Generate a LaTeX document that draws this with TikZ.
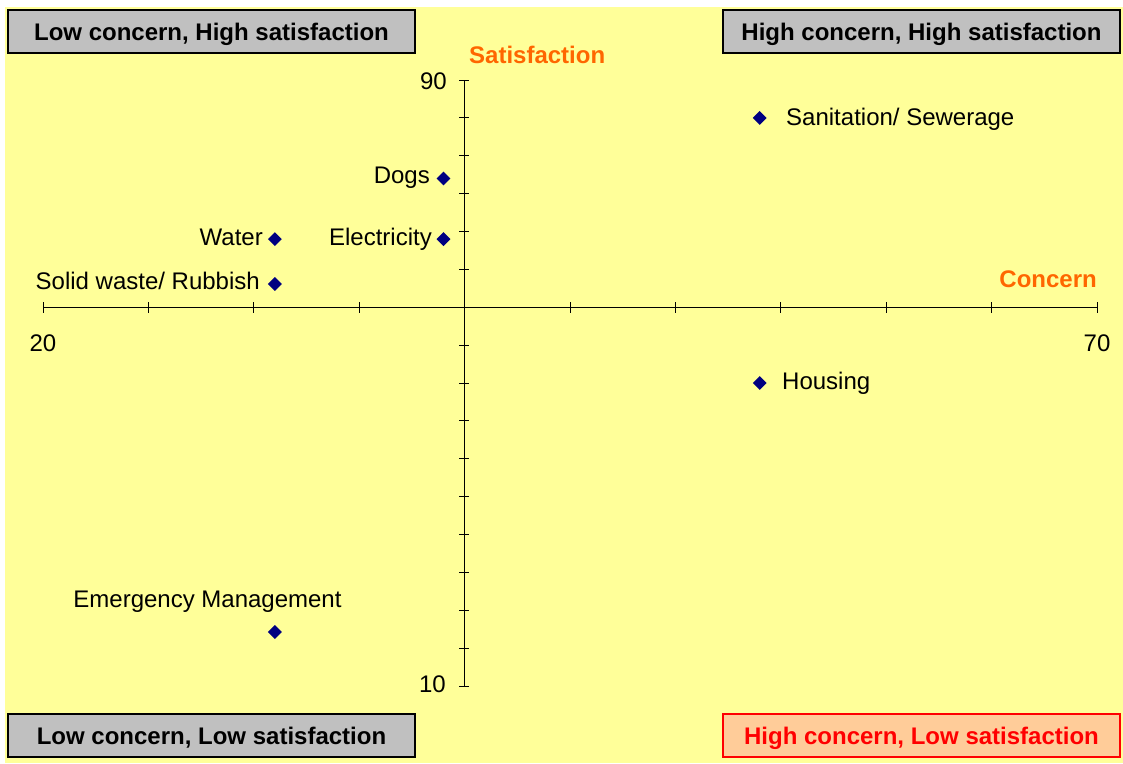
\documentclass[tikz,border=0pt]{standalone}
\usepackage{fontspec}
\setmainfont{Liberation Sans}
\usetikzlibrary{shapes.geometric}
\definecolor{bgyellow}{HTML}{FFFF99}
\definecolor{boxgray}{HTML}{C0C0C0}
\definecolor{peach}{HTML}{FFCC99}
\definecolor{axisorange}{HTML}{FF6600}
\definecolor{navy}{HTML}{000080}
\tikzset{
  quadbox/.style={draw=black, line width=1.5pt, fill=boxgray,
    font=\bfseries\fontsize{24}{28}\selectfont,
    minimum height=43pt, text height=17pt, text depth=0pt, inner sep=0pt},
  alertbox/.style={quadbox, draw=red, fill=peach, text=red},
  marker/.style={diamond, fill=navy, minimum width=14pt, minimum height=14pt, inner sep=0pt},
  lbl/.style={font=\fontsize{24}{28}\selectfont, inner sep=0pt},
  axlbl/.style={font=\bfseries\fontsize{24}{28}\selectfont, text=axisorange, inner sep=0pt},
  axisline/.style={draw=black, line width=1pt},
}
\begin{document}
\begin{tikzpicture}[x=1pt,y=-1pt]
\useasboundingbox (0,0) rectangle (1123,763);
\fill[white] (0,0) rectangle (1123,763);
\fill[bgyellow] (5,7) rectangle (1123,763);

% quadrant boxes
\node[quadbox, minimum width=407pt] (tl) at (211.5,31.5) {Low concern, High satisfaction};
\node[quadbox, minimum width=397pt] (tr) at (921.5,31.5) {High concern, High satisfaction};
\node[quadbox, minimum width=407pt] (bl) at (211.5,735.5) {Low concern, Low satisfaction};
\node[alertbox, minimum width=397pt] (br) at (921.5,735.5) {High concern, Low satisfaction};

% axes
\coordinate (xL) at (43,307);
\coordinate (xR) at (1097,307);
\coordinate (yT) at (464,80);
\coordinate (yB) at (464,686);
\draw[axisline] (xL) -- (xR);
\draw[axisline] (yT) -- (yB);
\foreach \k in {0,...,10} {
  \draw[axisline] ({43+\k*105.4},302) -- ({43+\k*105.4},313);
}
\foreach \k in {0,...,16} {
  \draw[axisline] (459,{80+\k*37.875}) -- (469,{80+\k*37.875});
}

% axis labels
\node[lbl, anchor=base east] (n90) at (447,89) {90};
\node[lbl, anchor=base east] (n10) at (446,692) {10};
\node[lbl, anchor=base] (n20) at (43,351) {20};
\node[lbl, anchor=base] (n70) at (1097,351) {70};
\node[axlbl, anchor=base west] (sat) at (469,63) {Satisfaction};
\node[axlbl, anchor=base east] (con) at (1097,287) {Concern};

% data points
\node[marker] (san) at (759.7,117.9) {};
\node[marker] (dogs) at (443.5,178.5) {};
\node[marker] (water) at (274.9,239.1) {};
\node[marker] (elec) at (443.5,239.1) {};
\node[marker] (solid) at (274.9,284.0) {};
\node[marker] (hous) at (759.7,383.0) {};
\node[marker] (emer) at (274.9,632.0) {};

% data labels
\node[lbl, anchor=base west] (sanL) at (786,125) {Sanitation/ Sewerage};
\node[lbl, anchor=base east] (dogsL) at (430,183) {Dogs};
\node[lbl, anchor=base east] (waterL) at (263,245) {Water};
\node[lbl, anchor=base east] (elecL) at (432,245) {Electricity};
\node[lbl, anchor=base east] (solidL) at (260,289) {Solid waste/ Rubbish};
\node[lbl, anchor=base west] (housL) at (782,389) {Housing};
\node[lbl, anchor=base] (emerL) at (207.5,607) {Emergency Management};
\end{tikzpicture}
\end{document}
